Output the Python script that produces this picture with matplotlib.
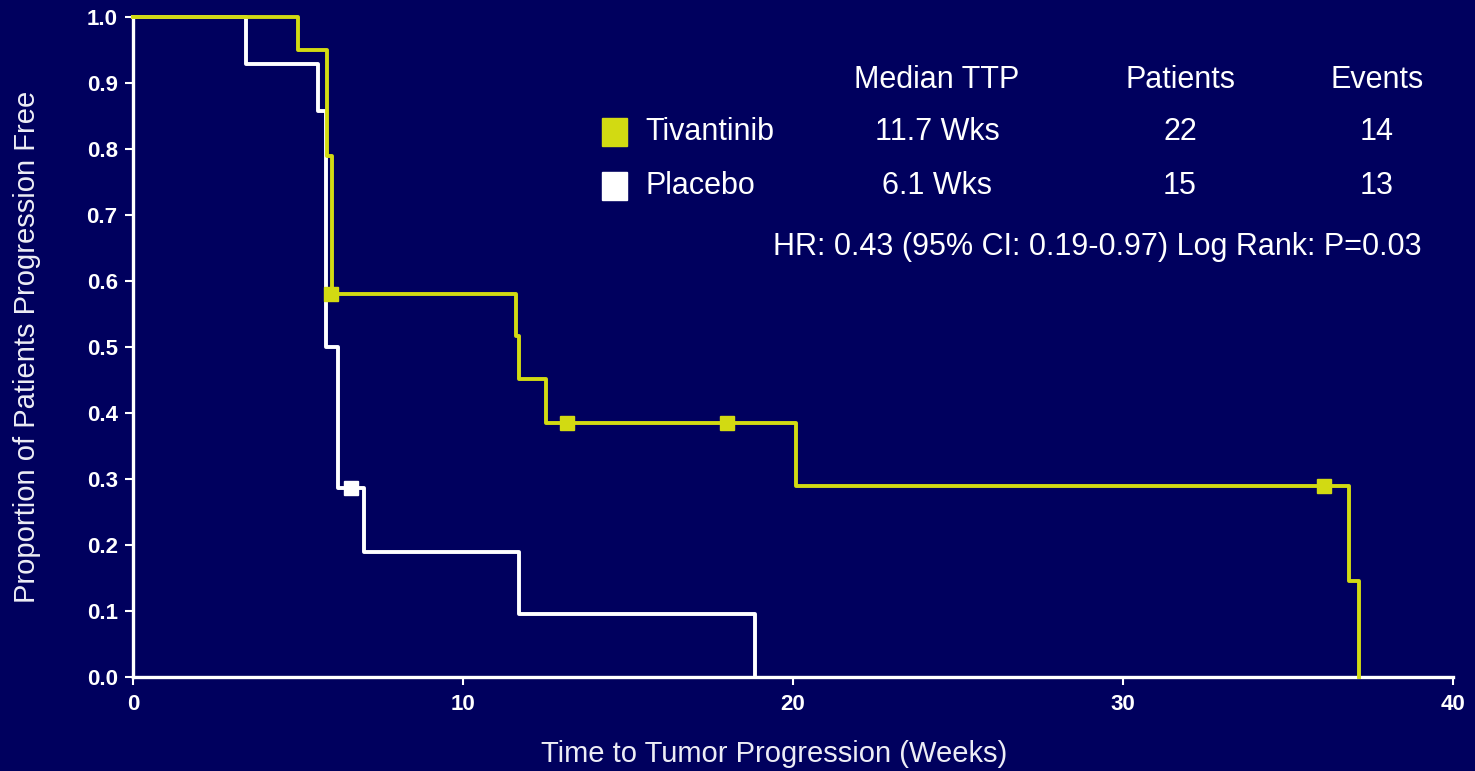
import matplotlib
matplotlib.use("Agg")
import matplotlib.pyplot as plt

# ---- data ----
tiv_t = [0, 5.0, 5.88, 6.03, 11.6, 11.7, 12.5, 20.1, 36.85, 37.15]
tiv_s = [1.0, 0.95, 0.79, 0.58, 0.516, 0.452, 0.385, 0.289, 0.145, 0.0]
tiv_cens_t = [6.0, 13.15, 18.0, 36.1]
tiv_cens_s = [0.58, 0.385, 0.385, 0.289]

pla_t = [0, 3.41, 5.6, 5.85, 6.2, 7.0, 11.7, 18.85]
pla_s = [1.0, 0.929, 0.857, 0.5, 0.286, 0.190, 0.095, 0.0]
pla_cens_t = [6.6]
pla_cens_s = [0.286]

x_ticks = [0, 10, 20, 30, 40]
y_ticks = [0.0, 0.1, 0.2, 0.3, 0.4, 0.5, 0.6, 0.7, 0.8, 0.9, 1.0]

table_header = ["Median TTP", "Patients", "Events"]
groups = ["Tivantinib", "Placebo"]
medians = ["11.7 Wks", "6.1 Wks"]
patients = ["22", "15"]
events = ["14", "13"]
hr_text = "HR: 0.43 (95% CI: 0.19-0.97) Log Rank: P=0.03"

BG = "#00005E"
YEL = "#D2DA12"
WHITE = "#FFFFFF"
colors = [YEL, WHITE]

plt.rcParams['font.family'] = ['Liberation Sans', 'DejaVu Sans']

fig = plt.figure(figsize=(14.75, 7.71), dpi=100, facecolor=BG)
ax = fig.add_axes([133/1475, (771-677)/771, (1453-133)/1475, (677-17)/771])
ax.set_facecolor(BG)

ax.step(pla_t, pla_s, where='post', color=WHITE, lw=2.8, clip_on=False, zorder=3)
ax.plot(pla_cens_t, pla_cens_s, 's', color=WHITE, ms=10, clip_on=False, zorder=4)
ax.step(tiv_t, tiv_s, where='post', color=YEL, lw=2.8, clip_on=False, zorder=5)
ax.plot(tiv_cens_t, tiv_cens_s, 's', color=YEL, ms=10, clip_on=False, zorder=6)

ax.set_xlim(0, 40)
ax.set_ylim(0, 1.0)
ax.set_xticks(x_ticks)
ax.set_yticks(y_ticks)
ax.set_xticklabels([str(v) for v in x_ticks])
ax.set_yticklabels([f"{v:.1f}" for v in y_ticks])

for s in ['top', 'right']:
    ax.spines[s].set_visible(False)
for s in ['left', 'bottom']:
    ax.spines[s].set_color(WHITE)
    ax.spines[s].set_linewidth(2.4)
ax.tick_params(colors=WHITE, width=1.5, length=6, direction='out')
ax.tick_params(axis='y', labelsize=16, pad=5)
ax.tick_params(axis='x', labelsize=16, pad=6)
for lab in ax.get_xticklabels() + ax.get_yticklabels():
    lab.set_fontweight('bold')

ax.set_xlabel("Time to Tumor Progression (Weeks)", color="#EDEDF5", fontsize=21)
ax.xaxis.set_label_coords((774 - 133) / 1320, -(740 - 677) / 660)
ax.set_ylabel("Proportion of Patients Progression Free", color="#EDEDF5", fontsize=21)
ax.yaxis.set_label_coords((41 - 133) / 1320, (677 - 347) / 660)

# ---- table / legend text in figure pixels ----
def fx(px):
    return px / 1475
def fy(py):
    return 1 - py / 771

col_x = [937, 1180, 1377]
row_y = [132, 186]
fs = 22
for cx, h in zip(col_x, table_header):
    fig.text(fx(cx), fy(80), h, color=WHITE, fontsize=fs, ha='center', va='center')
for i, g in enumerate(groups):
    fig.patches.append(plt.Rectangle((fx(602), fy(row_y[i] + 14)), 25/1475, 28/771,
                                     transform=fig.transFigure, color=colors[i], figure=fig))
    fig.text(fx(645), fy(row_y[i]), g, color=WHITE, fontsize=fs, ha='left', va='center')
    fig.text(fx(col_x[0]), fy(row_y[i]), medians[i], color=WHITE, fontsize=fs, ha='center', va='center')
    fig.text(fx(col_x[1]), fy(row_y[i]), patients[i], color=WHITE, fontsize=fs, ha='center', va='center')
    fig.text(fx(col_x[2]), fy(row_y[i]), events[i], color=WHITE, fontsize=fs, ha='center', va='center')
fig.text(fx(1422), fy(247), hr_text, color=WHITE, fontsize=fs, ha='right', va='center')

fig.savefig("out.png", dpi=100, facecolor=BG)
